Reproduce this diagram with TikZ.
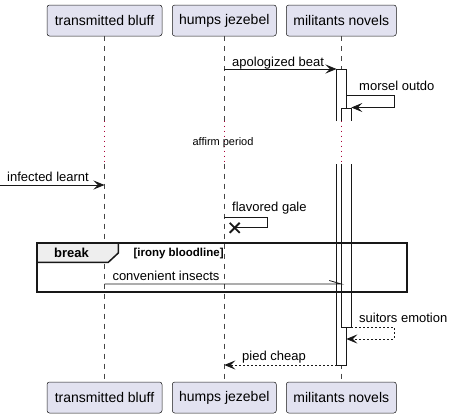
\documentclass[tikz,border=0pt]{standalone}
\usepackage{fontspec}
\setmainfont{Liberation Sans}
\usetikzlibrary{arrows.meta}
\definecolor{partfill}{HTML}{E2E2F0}
\definecolor{ink}{HTML}{181818}
\definecolor{delayred}{HTML}{A80036}
\definecolor{tabfill}{HTML}{EEEEEE}
\tikzset{
  part/.style={draw=ink, line width=0.5pt, fill=partfill, rounded corners=2.5pt, inner sep=0pt,
    minimum height=31pt, font=\fontsize{14}{16}\selectfont},
  life/.style={draw=ink!80, line width=0.5pt, dash pattern=on 5pt off 5pt},
  delayline/.style={draw=delayred, line width=1pt, dash pattern=on 1pt off 4pt},
  actbox/.style={draw=ink, line width=0.8pt, fill=white},
  msg/.style={draw=ink, line width=0.8pt, -{Stealth[length=11pt,width=9pt,inset=4.5pt]}},
  ret/.style={msg, dash pattern=on 2pt off 2pt},
  lbl/.style={anchor=base west, inner sep=0pt, font=\fontsize{13}{15}\selectfont},
  framebox/.style={draw=ink, line width=1.5pt},
}
\begin{document}
\begin{tikzpicture}[x=1pt,y=-1pt]
\useasboundingbox (0,0) rectangle (453,418);
% participants
\node[part, minimum width=115pt] (tbT) at (104.5,20.5) {transmitted bluff};
\node[part, minimum width=104pt] (hjT) at (224.3,20.5) {humps jezebel};
\node[part, minimum width=110pt] (mnT) at (341.3,20.5) {militants novels};
\node[part, minimum width=115pt] (tbB) at (104.5,397.5) {transmitted bluff};
\node[part, minimum width=104pt] (hjB) at (224.3,397.5) {humps jezebel};
\node[part, minimum width=110pt] (mnB) at (341.3,397.5) {militants novels};
% lifelines
\coordinate (dA) at (0,120.5);
\coordinate (dB) at (0,163.5);
\foreach \p in {tb,hj,mn}{
  \draw[life] (\p T.south) -- (\p T.south |- dA);
  \draw[delayline] (\p T.south |- dA) -- (\p T.south |- dB);
  \draw[life] (\p T.south |- dB) -- (\p B.north);
}
% delay text
\node[inner sep=0pt, anchor=base, font=\fontsize{11}{13}\selectfont] (delay) at (223,145) {affirm period};
% activations
\draw[actbox] (336.5,121) -- (336.5,69) -- (346.3,69) -- (346.3,121);
\draw[actbox] (341.5,121) -- (341.5,108) -- (351.3,108) -- (351.3,121);
\draw[actbox] (336.5,164) -- (336.5,365) -- (346.3,365) -- (346.3,164);
\draw[actbox] (341.5,164) -- (341.5,327) -- (351.3,327) -- (351.3,164);
% coordinates for messages
\coordinate (m1s) at (hjT.south |- 0,69);
\coordinate (m1e) at (336.5,69);
\coordinate (m2s) at (346.3,95);
\coordinate (m2e) at (351.3,107.5);
\coordinate (m3s) at (0,185);
\coordinate (m3e) at (tbT.south |- m3s);
\coordinate (m4s) at (hjT.south |- 0,217.7);
\coordinate (m4x) at (234.7,227.8);
\coordinate (m5s) at (tbT.south |- 0,284);
\coordinate (m5e) at (mnT.south |- 0,284);
\coordinate (m6s) at (351.3,327);
\coordinate (m6e) at (346.3,339);
\coordinate (m7s) at (336.5,365);
\coordinate (m7e) at (hjT.south |- m7s);
% messages
\draw[msg] (m1s) -- (m1e);
\node[lbl] (l1) at (232,66) {apologized beat};
\draw[msg] (m2s) -- (m2s -| 394,0) -- (394,0 |- m2e) -- (m2e);
\node[lbl] (l2) at (359,90.5) {morsel outdo};
\draw[msg] (m3s) -- (m3e);
\node[lbl] (l3) at (7,181) {infected learnt};
\draw[draw=ink, line width=0.8pt] (m4s) -- (m4s -| 267,0) -- (267,0 |- m4x) -- (m4x);
\draw[draw=ink, line width=1.8pt] ([shift={(-5,-5)}]m4x) -- ([shift={(5,5)}]m4x)
  ([shift={(-5,5)}]m4x) -- ([shift={(5,-5)}]m4x);
\node[lbl] (l4) at (232,211) {flavored gale};
% break frame
\draw[framebox] (37,243) rectangle (407,292);
\draw[framebox, fill=tabfill] (37,243) -- (118.3,243) -- (118.3,253) -- (108.3,262.3) -- (37,262.3) -- cycle;
\node[inner sep=0pt, anchor=base, font=\fontsize{13}{15}\selectfont\bfseries] (brk) at (71.5,257.5) {break};
\node[inner sep=0pt, anchor=base west, font=\fontsize{11.5}{13}\selectfont\bfseries] (grd) at (133.3,256.5) {[irony bloodline]};
\draw[draw=ink, line width=0.8pt] (m5s) -- (m5e) -- ++(-12,-3.5);
\node[lbl] (l5) at (112.3,280) {convenient insects};
% returns
\draw[ret] (m6s) -- (m6s -| 394,0) -- (394,0 |- m6e) -- (m6e);
\node[lbl] (l6) at (359,322) {suitors emotion};
\draw[ret] (m7s) -- (m7e);
\node[lbl] (l7) at (242,360) {pied cheap};
\end{tikzpicture}
\end{document}
